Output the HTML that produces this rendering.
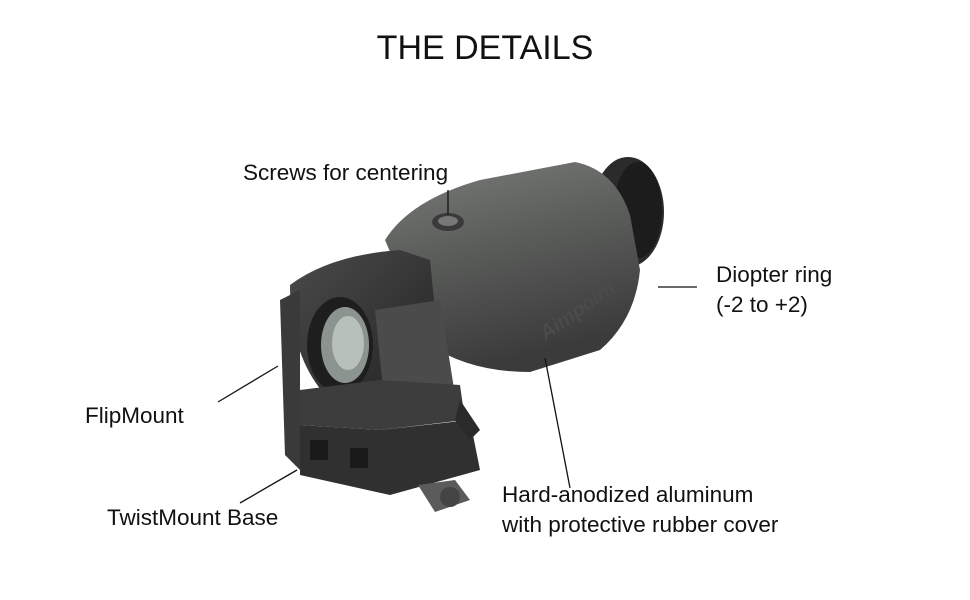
<!DOCTYPE html>
<html><head><meta charset="utf-8"><style>
html,body{margin:0;padding:0;background:#fff;}
body{width:970px;height:600px;position:relative;overflow:hidden;font-family:"Liberation Sans","DejaVu Sans",sans-serif;}
.t{position:absolute;color:#111;font-size:22.5px;white-space:nowrap;}
</style></head><body>
<svg width="970" height="600" style="position:absolute;left:0;top:0">
<defs>
<linearGradient id="body" x1="0" y1="0" x2="0.3" y2="1">
<stop offset="0" stop-color="#7a7c7a"/><stop offset="0.45" stop-color="#5c5e5c"/><stop offset="1" stop-color="#3a3b3a"/></linearGradient>
<linearGradient id="dark" x1="0" y1="0" x2="1" y2="1">
<stop offset="0" stop-color="#4a4b4a"/><stop offset="1" stop-color="#222"/></linearGradient>
</defs>
<ellipse cx="628" cy="212" rx="36" ry="55" fill="#2b2b2b"/>
<ellipse cx="638" cy="210" rx="24" ry="48" fill="#1c1c1c"/>
<path d="M385 240 Q410 200 480 180 L575 162 Q615 170 630 215 L640 270 Q635 320 600 350 L530 372 Q470 372 430 345 Z" fill="url(#body)"/>
<ellipse cx="448" cy="222" rx="16" ry="9" fill="#3a3a3a"/>
<ellipse cx="448" cy="221" rx="10" ry="5" fill="#777"/>
<text x="525" y="325" font-family="Liberation Sans" font-size="20" font-style="italic" font-weight="bold" fill="#4a4b4a" transform="rotate(-35 560 300)">Aimpoint</text>
<path d="M290 285 Q330 255 400 250 L430 260 L440 360 L330 400 Q290 360 290 285Z" fill="url(#dark)"/>
<ellipse cx="340" cy="345" rx="33" ry="48" fill="#1e1e1e"/>
<ellipse cx="345" cy="345" rx="24" ry="38" fill="#8c9490"/>
<ellipse cx="348" cy="343" rx="16" ry="27" fill="#b8c0bc"/>
<path d="M280 300 L300 290 L300 470 L285 455Z" fill="#3a3a3a"/>
<path d="M375 310 L440 300 L455 395 L385 410Z" fill="#4a4b4a"/>
<path d="M300 390 L380 380 L460 385 L465 420 L380 430 L300 425Z" fill="#3c3d3c"/>
<path d="M300 425 L380 430 L470 420 L480 470 L390 495 L300 475Z" fill="#2f302f"/>
<rect x="310" y="440" width="18" height="20" fill="#1a1a1a"/>
<rect x="350" y="448" width="18" height="20" fill="#1a1a1a"/>
<path d="M460 400 L480 430 L470 440 L455 420Z" fill="#2a2a2a"/>
<path d="M418 485 L455 480 L470 500 L435 512Z" fill="#5a5b5a"/>
<circle cx="450" cy="497" r="10" fill="#444"/>
<g stroke="#111" stroke-width="1.3">
<line x1="448" y1="190" x2="448" y2="214"/>
<line x1="658" y1="287" x2="697" y2="287"/>
<line x1="218" y1="402" x2="278" y2="366"/>
<line x1="240" y1="503" x2="297" y2="470"/>
<line x1="545" y1="358" x2="570" y2="488"/>
</g>
</svg>
<div class="t" style="left:0;width:970px;text-align:center;top:29px;font-size:34px;">THE DETAILS</div>
<div class="t" style="left:243px;top:160px;">Screws for centering</div>
<div class="t" style="left:716px;top:260px;line-height:30px;">Diopter ring<br>(-2 to +2)</div>
<div class="t" style="left:85px;top:403px;">FlipMount</div>
<div class="t" style="left:107px;top:505px;">TwistMount Base</div>
<div class="t" style="left:502px;top:480px;line-height:30px;">Hard-anodized aluminum<br>with protective rubber cover</div>
</body></html>
